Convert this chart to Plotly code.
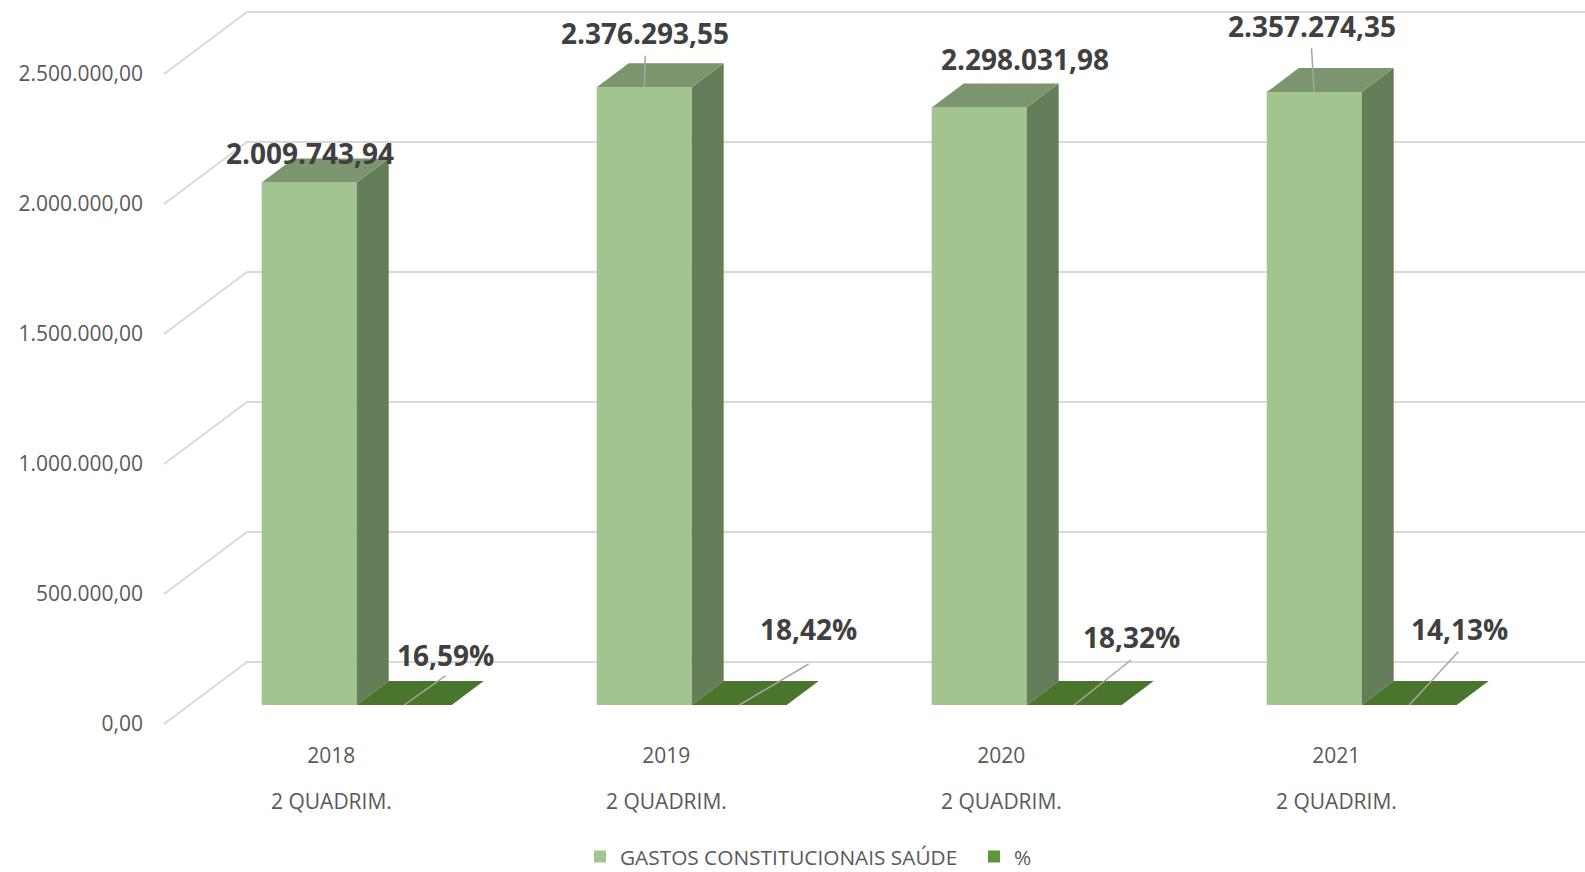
import plotly.graph_objects as go

# ---------------- data ----------------
categories = ["2018", "2019", "2020", "2021"]
period_labels = ["2 QUADRIM.", "2 QUADRIM.", "2 QUADRIM.", "2 QUADRIM."]
gastos = [2009743.94, 2376293.55, 2298031.98, 2357274.35]
percent = [0.1659, 0.1842, 0.1832, 0.1413]
y_ticks = [0, 500000, 1000000, 1500000, 2000000, 2500000]
series_names = ["GASTOS CONSTITUCIONAIS SAÚDE", "%"]


def fmt_br(v):
    return f"{v:,.2f}".replace(",", "X").replace(".", ",").replace("X", ".")


def fmt_pct(p):
    return f"{p * 100:.2f}".replace(".", ",") + "%"


# ---------------- geometry / style ----------------
W, H = 1585, 872
PX_PER_CAT = 335.0            # pixels between categories
PX_PER_VAL = 130.0 / 500000   # pixels per value unit
X0_PX = 356.7                 # pixel x of category 0 (bar front plane)
Y0_PX = 705.0                 # pixel y of value 0 (bar front plane)
BAR_W_PX = 95.0
DEPTH_X_PX, DEPTH_Y_PX = 32.0, 24.0   # bar depth
FLOOR_FRONT_PX = 19.0         # front edge of floor below bar front plane
WALL_BACK_PX = 43.0           # back wall above bar front plane
SLOPE = 83.0 / 62.0           # x shift per y shift of depth
FLOOR_LEFT_PX = 164.0

C_FRONT = "#A2C58F"
C_SIDE = "#657E5A"
C_TOP = "#7B966E"
C_PCT_TOP = "#4A752C"
C_PCT_LEGEND = "#5E9639"
C_GRID = "#D9D9D9"
C_TEXT = "#595959"
C_LABEL = "#404040"
C_LEADER = "#A6A6A6"
TICK_FONT = dict(family="Open Sans", size=21, color=C_TEXT)


def dxu(px):
    return px / PX_PER_CAT


def dyu(px):
    return px / PX_PER_VAL


x_range = [-X0_PX / PX_PER_CAT, (W - X0_PX) / PX_PER_CAT]
y_range = [-(H - Y0_PX) / PX_PER_VAL, Y0_PX / PX_PER_VAL]
bw = dxu(BAR_W_PX)
ddx, ddy = dxu(DEPTH_X_PX), dyu(DEPTH_Y_PX)
xpos = list(range(len(categories)))

fig = go.Figure()

# front faces
fig.add_trace(go.Bar(x=xpos, y=gastos, width=bw, offset=-bw, name=series_names[0],
                     marker=dict(color=C_FRONT, line=dict(width=0)), hoverinfo="skip"))
fig.add_trace(go.Bar(x=xpos, y=percent, width=bw, offset=0, name=series_names[1],
                     marker=dict(color=C_PCT_LEGEND, line=dict(width=0)), hoverinfo="skip"))

# side and top faces
side_x, side_y, top_x, top_y, ptop_x, ptop_y = [], [], [], [], [], []
for i, v, p in zip(xpos, gastos, percent):
    xl, xr = i - bw, i
    side_x += [xr, xr + ddx, xr + ddx, xr, xr, None]
    side_y += [0, ddy, v + ddy, v, 0, None]
    top_x += [xl, xr, xr + ddx, xl + ddx, xl, None]
    top_y += [v, v, v + ddy, v + ddy, v, None]
    pl, pr = i, i + bw
    ptop_x += [pl, pr, pr + ddx, pl + ddx, pl, None]
    ptop_y += [p, p, p + ddy, p + ddy, p, None]

for fx, fy, col in [(side_x, side_y, C_SIDE), (top_x, top_y, C_TOP), (ptop_x, ptop_y, C_PCT_TOP)]:
    fig.add_trace(go.Scatter(x=fx, y=fy, mode="lines", fill="toself", fillcolor=col,
                             line=dict(width=0, color=col), showlegend=False,
                             hoverinfo="skip"))

# gridlines: back wall + diagonal on the side wall
x_floor_left = x_range[0] + dxu(FLOOR_LEFT_PX)
x_wall_left = x_floor_left + dxu((FLOOR_FRONT_PX + WALL_BACK_PX) * SLOPE)
shapes = []
for v in y_ticks:
    yw = v + dyu(WALL_BACK_PX)
    yf = v - dyu(FLOOR_FRONT_PX)
    shapes.append(dict(type="line", xref="x", yref="y", x0=x_wall_left, x1=x_range[1],
                       y0=yw, y1=yw, line=dict(color=C_GRID, width=2), layer="below"))
    shapes.append(dict(type="line", xref="x", yref="y", x0=x_floor_left, x1=x_wall_left,
                       y0=yf, y1=yw, line=dict(color=C_GRID, width=2), layer="below"))

# data labels: text centre offset and leader end offset (px right, px down) from bar top
gastos_text_offsets = [(0.5, -29.3), (0.8, -54.4), (45.8, -48.8), (-2.0, -65.8)]
gastos_leader_ends = [None, (1.1, -31.5), None, (-2.7, -43.8)]
pct_text_offsets = [(41.3, -50.0), (69.5, -76.2), (57.1, -67.7), (49.8, -75.7)]
pct_leader_ends = [(41.5, -29.3), (69.5, -41.0), (56.8, -45.0), (49.1, -53.3)]
label_font = dict(family="Open Sans", size=28, color=C_LABEL, weight=700)

annotations = []


def add_label(xh, yh, text, toff, lend):
    annotations.append(dict(x=xh, y=yh, xref="x", yref="y", text=text, showarrow=False,
                            xshift=toff[0], yshift=-toff[1], xanchor="center",
                            yanchor="middle", font=label_font))
    if lend is not None:
        shapes.append(dict(type="line", xref="x", yref="y",
                           xsizemode="pixel", ysizemode="pixel", xanchor=xh, yanchor=yh,
                           x0=0, y0=0, x1=lend[0], y1=-lend[1],
                           line=dict(color=C_LEADER, width=1.5), layer="above"))


for i, v, toff, lend in zip(xpos, gastos, gastos_text_offsets, gastos_leader_ends):
    add_label(i - bw / 2, v, fmt_br(v), toff, lend)
for i, p, toff, lend in zip(xpos, percent, pct_text_offsets, pct_leader_ends):
    add_label(i + bw / 2, p, fmt_pct(p), toff, lend)

# second level of category axis
cat_front = [i - dxu(FLOOR_FRONT_PX * SLOPE) for i in xpos]
for xc, lab in zip(cat_front, period_labels):
    annotations.append(dict(x=xc, y=1 - 801 / H, xref="x", yref="paper", text=lab,
                            showarrow=False, xanchor="center", yanchor="middle",
                            font=TICK_FONT))

fig.update_layout(
    width=W, height=H,
    margin=dict(l=0, r=0, t=0, b=0, autoexpand=False),
    paper_bgcolor="white", plot_bgcolor="white",
    barmode="overlay",
    showlegend=True,
    hovermode=False,
    shapes=shapes,
    annotations=annotations,
    font=dict(family="Open Sans", size=20, color=C_TEXT),
    legend=dict(orientation="h", x=580 / W, xanchor="left", y=1 - 857 / H, yanchor="middle",
                font=dict(family="Open Sans", size=20.8, color=C_TEXT), itemwidth=30,
                entrywidth=349, entrywidthmode="pixels",
                bgcolor="rgba(0,0,0,0)"),
    xaxis=dict(range=x_range, domain=[0, 1], anchor="free", position=1 - 741 / H,
               tickvals=cat_front, ticktext=categories, showgrid=False, zeroline=False,
               showline=False, ticks="", tickfont=TICK_FONT),
    yaxis=dict(range=y_range, domain=[0, 1], anchor="free", position=143 / W,
               tickvals=[v - dyu(FLOOR_FRONT_PX) for v in y_ticks],
               ticktext=[fmt_br(v) for v in y_ticks], showgrid=False, zeroline=False,
               showline=False, ticks="", tickfont=TICK_FONT),
)

fig.write_html("out.html", config={"displayModeBar": False},
               post_script="document.body.style.margin='0px';")
